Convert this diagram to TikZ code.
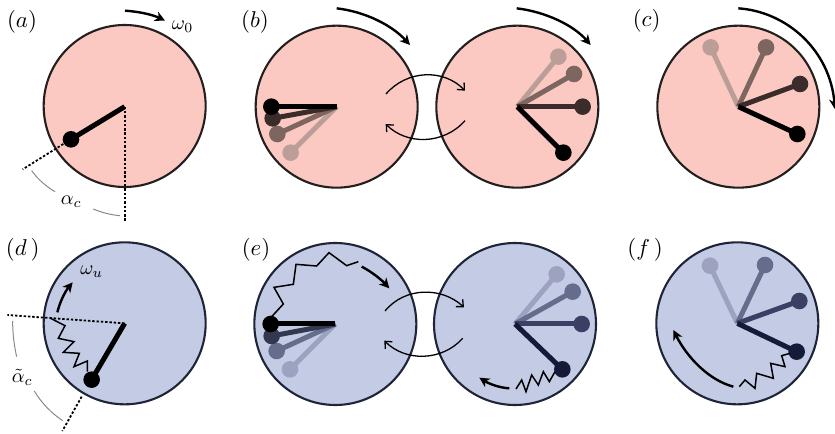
\documentclass[tikz,border=0pt]{standalone}
\usetikzlibrary{arrows.meta}
\definecolor{pinkfill}{HTML}{FBC9C2}
\definecolor{bluefill}{HTML}{C3CBE5}
\definecolor{rimpink}{HTML}{231F1E}
\definecolor{rimblue}{HTML}{1F2438}
\definecolor{pA}{HTML}{000000}\definecolor{pB}{HTML}{3B2B2A}\definecolor{pC}{HTML}{7D6560}\definecolor{pD}{HTML}{BC9E99}
\definecolor{bA}{HTML}{000000}\definecolor{bB}{HTML}{34384F}\definecolor{bC}{HTML}{666C8C}\definecolor{bD}{HTML}{9CA2C0}
\definecolor{nA}{HTML}{141A38}\definecolor{nB}{HTML}{3B3F63}
\definecolor{anglegray}{HTML}{8A8A8A}
\tikzset{
  pinkdisc/.style={circle,draw=rimpink,fill=pinkfill,line width=2.1bp,minimum size=162bp,inner sep=0pt,outer sep=0pt},
  bluedisc/.style={circle,draw=rimblue,fill=bluefill,line width=2.1bp,minimum size=162bp,inner sep=0pt,outer sep=0pt},
  fat/.style={line width=5bp,line cap=butt},
  lbl/.style={inner sep=0pt,scale=2.3},
  mlbl/.style={inner sep=0pt,scale=2},
  turn/.style={line width=2.4bp,-{Stealth[length=10bp,width=10bp,inset=3bp]}},
  swap/.style={line width=1.3bp,-{Straight Barb[length=5.5bp,width=10bp]}},
  dots/.style={line width=1.8bp,dash pattern=on 2.4bp off 1.9bp},
  anglearc/.style={anglegray,line width=1bp},
  spring/.style={line width=1.5bp,line join=miter},
}
% centre, tip, colour: one weight on its rod
\newcommand{\rodweight}[3]{%
  \draw[fat,color=#3] (#1) -- (#2);
  \fill[color=#3] (#2) circle (8.3bp);}
\begin{document}
\begin{tikzpicture}[x=1bp/3,y=-1bp/3]
\useasboundingbox (0,0) rectangle (2505,1302);
% ---------- (a)
\node[pinkdisc] (a) at (374,318) {};
\coordinate (ah) at (374,320);
\coordinate (aend) at (374,668);
\coordinate (araystart) at (190,432);
\coordinate (aray) at (68,508);
\draw[dots] (ah) -- (aend);
\draw[dots] (araystart) -- (aray);
\rodweight{ah}{213,418}{pA}
\draw[turn] (375,32) .. controls (420,35) and (460,45) .. (495,62);
\node[mlbl] (omega0) at (548,80) {$\omega_0$};
\node[mlbl] (alphac) at (214,604) {$\alpha_c$};
\draw[anglearc] (95,512) .. controls (115,540) and (140,560) .. (165,575);
\draw[anglearc] (280,627) .. controls (305,638) and (335,645) .. (360,647);
\node[lbl] (la) at (66,64) {$(a)$};
% ---------- (b)
\begin{scope}[shift={(690,0)}]
\node[pinkdisc] (b1) at (320,320) {};
\node[pinkdisc] (b2) at (862,320) {};
\coordinate (b1h) at (320,320);
\coordinate (b2h) at (862,320);
\rodweight{b1h}{182,458}{pD}
\rodweight{b1h}{142,402}{pC}
\rodweight{b1h}{128,355}{pB}
\rodweight{b1h}{124,320}{pA}
\rodweight{b2h}{985,170}{pD}
\rodweight{b2h}{1032,222}{pC}
\rodweight{b2h}{1058,320}{pB}
\rodweight{b2h}{1000,458}{pA}
\draw[turn] (320,25) .. controls (405,35) and (485,75) .. (540,135);
\draw[turn] (860,25) .. controls (945,35) and (1030,75) .. (1082,135);
\draw[swap] (468,282) .. controls (530,210) and (640,205) .. (705,272);
\draw[swap] (705,362) .. controls (640,435) and (530,435) .. (467,372);
\node[lbl] (lb) at (75,64) {$(b)$};
\end{scope}
% ---------- (c)
\begin{scope}[shift={(1830,0)}]
\node[pinkdisc] (c) at (385,320) {};
\coordinate (ch) at (385,320);
\rodweight{ch}{302,142}{pD}
\rodweight{ch}{468,142}{pC}
\rodweight{ch}{570,252}{pB}
\rodweight{ch}{562,402}{pA}
\draw[turn] (385,25) .. controls (530,35) and (660,150) .. (675,328);
\node[lbl] (lc) at (110,62) {$(c)$};
\end{scope}
% ---------- (d)
\begin{scope}[shift={(0,675)}]
\node[bluedisc] (d) at (374,295) {};
\coordinate (dh) at (374,295);
\coordinate (dray) at (22,270);
\coordinate (draystart) at (245,515);
\coordinate (drayend) at (187,618);
\draw[dots] (dh) -- (dray);
\draw[dots] (draystart) -- (drayend);
\rodweight{dh}{275,464}{pA}
\draw[spring] (152,280) -- (195,302) -- (175,340) -- (222,350) -- (190,382) -- (238,385) -- (222,425) -- (262,408) -- (262,440);
\draw[turn] (172,262) .. controls (180,230) and (195,200) .. (218,172);
\node[mlbl] (omegau) at (275,140) {$\omega_u$};
\node[mlbl] (talpha) at (67,458) {$\tilde\alpha_c$};
\draw[anglearc] (38,288) .. controls (38,325) and (42,360) .. (50,395);
\draw[anglearc] (103,498) .. controls (125,535) and (155,565) .. (188,587);
\node[lbl] (ld) at (68,74) {$(d\,)$};
\end{scope}
% ---------- (e)
\begin{scope}[shift={(690,675)}]
\node[bluedisc] (e1) at (316,297) {};
\node[bluedisc] (e2) at (855,297) {};
\coordinate (e1h) at (316,297);
\coordinate (e2h) at (855,297);
\rodweight{e1h}{180,433}{bD}
\rodweight{e1h}{140,378}{bC}
\rodweight{e1h}{125,333}{bB}
\rodweight{e1h}{122,297}{bA}
\rodweight{e2h}{980,148}{bD}
\rodweight{e2h}{1028,200}{bC}
\rodweight{e2h}{1055,297}{nB}
\rodweight{e2h}{997,433}{nA}
\draw[spring] (125,275) -- (160,237) -- (132,187) -- (190,178) -- (198,118) -- (260,123) -- (297,83) -- (350,122) -- (385,110);
\draw[turn] (395,125) .. controls (425,140) and (455,165) .. (478,190);
\draw[spring] (975,440) -- (958,470) -- (940,440) -- (925,480) -- (905,450) -- (888,500) -- (875,465) -- (858,492);
\draw[turn] (838,490) .. controls (805,488) and (775,475) .. (748,458);
\draw[swap] (465,258) .. controls (525,185) and (635,185) .. (702,247);
\draw[swap] (698,340) .. controls (635,410) and (525,410) .. (463,347);
\node[lbl] (le) at (78,74) {$(e)$};
\end{scope}
% ---------- (f)
\begin{scope}[shift={(1830,675)}]
\node[bluedisc] (f) at (382,295) {};
\coordinate (fh) at (382,295);
\rodweight{fh}{300,122}{bD}
\rodweight{fh}{465,120}{bC}
\rodweight{fh}{568,228}{nB}
\rodweight{fh}{560,380}{nA}
\draw[spring] (540,385) -- (515,392) -- (525,425) -- (482,415) -- (490,460) -- (440,445) -- (435,490) -- (405,465) -- (388,485);
\draw[turn] (370,485) .. controls (295,465) and (230,395) .. (190,315);
\node[lbl] (lf) at (105,74) {$(f\,)$};
\end{scope}
\end{tikzpicture}
\end{document}
